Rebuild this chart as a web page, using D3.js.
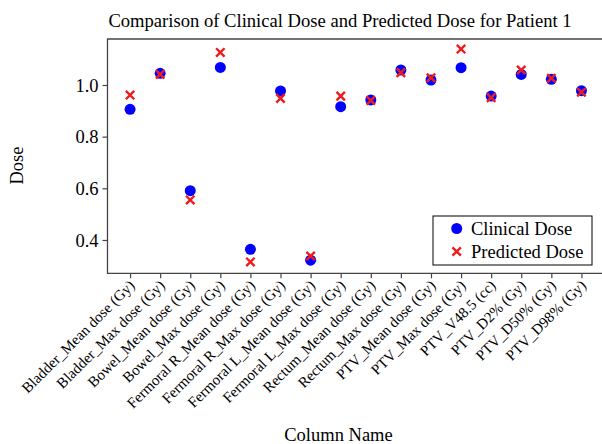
<!DOCTYPE html>
<html><head><meta charset="utf-8">
<script src="https://cdn.jsdelivr.net/npm/d3@7"></script>
<style>body{margin:0;background:#fff;overflow:hidden}svg{display:block}text{font-family:"Liberation Serif","DejaVu Serif",serif;fill:#000}</style>
</head><body><svg id="c" width="602" height="444"></svg>
<script>
const categories = ["Bladder_Mean dose (Gy)","Bladder_Max dose (Gy)","Bowel_Mean dose (Gy)","Bowel_Max dose (Gy)","Fermoral R_Mean dose (Gy)","Fermoral R_Max dose (Gy)","Fermoral L_Mean dose (Gy)","Fermoral L_Max dose (Gy)","Rectum_Mean dose (Gy)","Rectum_Max dose (Gy)","PTV_Mean dose (Gy)","PTV_Max dose (Gy)","PTV_V48.5 (cc)","PTV_D2% (Gy)","PTV_D50% (Gy)","PTV_D98% (Gy)"];
const clinical = [0.906,1.045,0.591,1.068,0.364,0.977,0.322,0.916,0.942,1.058,1.019,1.067,0.957,1.041,1.022,0.978];
const predicted = [0.961,1.041,0.555,1.126,0.315,0.948,0.338,0.957,0.940,1.048,1.028,1.139,0.951,1.058,1.026,0.972];
const yTicks = [0.4,0.6,0.8,1.0];

const svg = d3.select("#c");
const L=107.5, R=604, T=39, B=273.3;
const x = d3.scaleLinear().domain([-0.75, categories.length-1+0.75]).range([L,R]);
const y = d3.scaleLinear().domain([0.271,1.178]).range([B,T]);

// axes
const xAxis = d3.axisBottom(x).tickValues(d3.range(categories.length)).tickSize(5).tickSizeOuter(0).tickFormat(i=>categories[i]);
const gx = svg.append("g").attr("transform",`translate(0,${B})`).call(xAxis);
gx.select(".domain").remove();
gx.selectAll(".tick line").attr("stroke","#444").attr("stroke-width",1.2);
gx.selectAll(".tick text").attr("font-size",15).attr("text-anchor","end")
  .attr("x",0).attr("y",0).attr("dy",0)
  .attr("transform","translate(5,13) rotate(-45)");

const yAxis = d3.axisLeft(y).tickValues(yTicks).tickSize(5).tickSizeOuter(0).tickFormat(d3.format(".1f"));
const gy = svg.append("g").attr("transform",`translate(${L},0)`).call(yAxis);
gy.select(".domain").remove();
gy.selectAll(".tick line").attr("stroke","#444").attr("stroke-width",1.2);
gy.selectAll(".tick text").attr("font-size",18.5).attr("x",-9).attr("dy","0.34em");

svg.append("path").attr("d",`M${R},${T}H${L}V${B}H${R}`)
  .attr("fill","none").attr("stroke","#444").attr("stroke-width",1.3);

// marks
svg.append("g").selectAll("circle").data(clinical).join("circle")
  .attr("cx",(d,i)=>x(i)).attr("cy",d=>y(d)).attr("r",5.5).attr("fill","#0000ff");
const s=4.2;
svg.append("g").selectAll("path").data(predicted).join("path")
  .attr("d",(d,i)=>{const cx=x(i),cy=y(d);return `M${cx-s},${cy-s}L${cx+s},${cy+s}M${cx-s},${cy+s}L${cx+s},${cy-s}`;})
  .attr("stroke","#ee1c1c").attr("stroke-width",2.4).attr("fill","none");

// title & labels
svg.append("text").attr("x",340).attr("y",27).attr("text-anchor","middle").attr("font-size",18.6)
  .text("Comparison of Clinical Dose and Predicted Dose for Patient 1");
svg.append("text").attr("transform","translate(23,165.5) rotate(-90)").attr("text-anchor","middle").attr("font-size",18.5).text("Dose");
svg.append("text").attr("x",338.5).attr("y",441).attr("text-anchor","middle").attr("font-size",18.5).text("Column Name");

// legend
const lg = svg.append("g");
lg.append("rect").attr("x",433).attr("y",216).attr("width",159).attr("height",49).attr("fill","#fff").attr("stroke","#000").attr("stroke-width",1);
lg.append("circle").attr("cx",456.7).attr("cy",228.5).attr("r",5.5).attr("fill","#0000ff");
{const cx=456.7,cy=251.5;lg.append("path").attr("d",`M${cx-s},${cy-s}L${cx+s},${cy+s}M${cx-s},${cy+s}L${cx+s},${cy-s}`).attr("stroke","#ee1c1c").attr("stroke-width",2.4);}
lg.append("text").attr("x",471).attr("y",234.5).attr("font-size",18.5).text("Clinical Dose");
lg.append("text").attr("x",471).attr("y",257.5).attr("font-size",18.5).text("Predicted Dose");
</script></body></html>
